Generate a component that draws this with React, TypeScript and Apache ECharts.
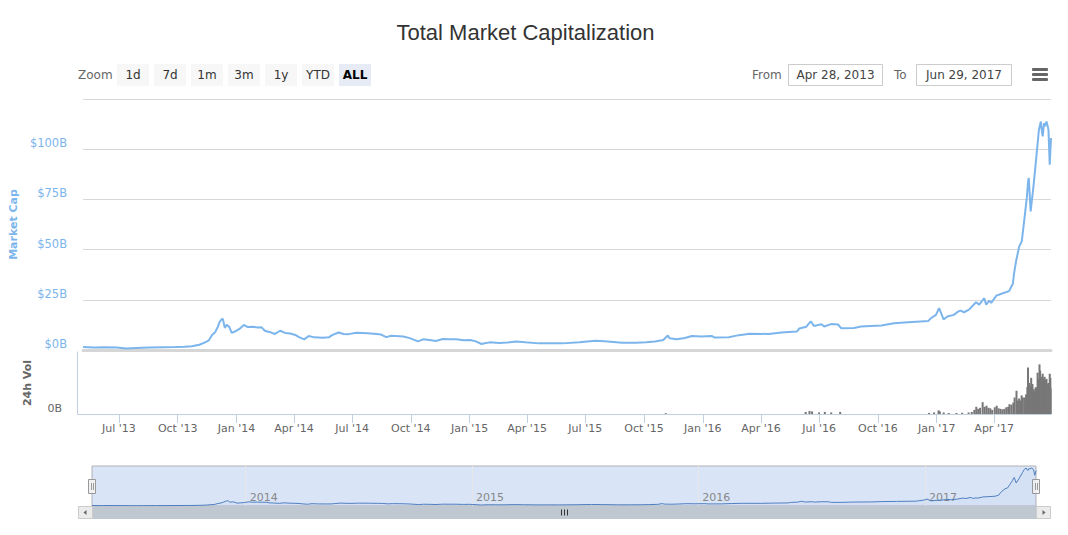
import React, { useEffect, useRef } from "react";
import * as echarts from "echarts";

const START = "2013-04-28";
const END = "2017-06-29";

const MCAP_DATES = [
  "2013-04-28","2013-05-15","2013-06-01","2013-06-20","2013-07-05","2013-07-20","2013-08-10","2013-09-01","2013-09-20","2013-10-05",
  "2013-10-16","2013-10-28","2013-11-06","2013-11-12","2013-11-17","2013-11-22","2013-11-26","2013-11-29","2013-12-02","2013-12-04",
  "2013-12-07","2013-12-10","2013-12-14","2013-12-18","2013-12-23","2013-12-30","2014-01-06","2014-01-12","2014-01-20","2014-01-28",
  "2014-02-03","2014-02-08","2014-02-15","2014-02-24","2014-03-04","2014-03-12","2014-03-20","2014-03-28","2014-04-02","2014-04-11",
  "2014-04-18","2014-04-27","2014-05-10","2014-05-20","2014-05-24","2014-06-04","2014-06-12","2014-06-20","2014-07-02","2014-07-20",
  "2014-08-03","2014-08-10","2014-08-18","2014-08-26","2014-09-14","2014-09-24","2014-10-07","2014-10-15","2014-10-25","2014-11-04",
  "2014-11-15","2014-11-25","2014-12-06","2014-12-18","2014-12-28","2015-01-06","2015-01-15","2015-01-20","2015-01-28","2015-02-12",
  "2015-02-25","2015-03-10","2015-03-25","2015-04-16","2015-05-05","2015-05-22","2015-06-18","2015-07-13","2015-07-28","2015-08-24",
  "2015-09-15","2015-10-01","2015-10-15","2015-10-28","2015-11-04","2015-11-07","2015-11-18","2015-12-01","2015-12-12","2015-12-27",
  "2016-01-12","2016-01-17","2016-02-08","2016-02-24","2016-03-12","2016-04-11","2016-05-01","2016-05-25","2016-05-29","2016-06-09",
  "2016-06-16","2016-06-21","2016-07-03","2016-07-07","2016-07-18","2016-07-29","2016-08-03","2016-08-23","2016-09-03","2016-10-05",
  "2016-10-25","2016-11-16","2016-12-18","2016-12-22","2016-12-30","2017-01-04","2017-01-11","2017-01-17","2017-01-27","2017-02-03",
  "2017-02-07","2017-02-12","2017-02-20","2017-03-03","2017-03-08","2017-03-16","2017-03-19","2017-03-24","2017-03-27","2017-04-04",
  "2017-04-12","2017-04-24","2017-04-30","2017-05-02","2017-05-05","2017-05-10","2017-05-14","2017-05-18","2017-05-22","2017-05-24",
  "2017-05-25","2017-05-28","2017-06-02","2017-06-07","2017-06-10","2017-06-13","2017-06-15","2017-06-16","2017-06-18","2017-06-19",
  "2017-06-22","2017-06-25","2017-06-27","2017-06-29"
];
const MCAP_VALUES = [
  1.5,1.3,1.4,1.2,0.8,1.0,1.2,1.4,1.5,1.6,
  1.9,2.6,3.8,4.8,7.5,9.0,11.5,14.0,15.3,15.5,
  11.0,12.5,11.5,8.5,9.2,10.5,12.5,11.4,11.6,11.2,
  11.3,9.6,9.0,8.0,9.6,8.5,8.2,7.5,6.5,5.3,
  7.0,6.3,6.1,6.3,7.3,8.7,8.0,7.9,8.6,8.3,
  8.0,7.7,6.4,7.1,6.7,5.9,4.3,5.3,5.0,4.5,
  5.5,5.4,5.3,4.8,5.0,4.3,3.0,3.4,3.8,3.5,
  3.7,4.2,3.8,3.3,3.4,3.3,3.8,4.6,4.3,3.6,
  3.6,3.8,4.2,5.0,7.2,5.8,5.3,6.0,7.0,6.7,
  7.0,6.2,6.4,7.4,8.1,8.0,8.7,9.2,10.7,11.6,
  14.3,12.0,12.8,11.7,12.9,12.7,10.8,11.0,11.7,12.2,
  13.3,13.8,14.5,15.8,17.5,20.8,15.2,16.7,17.5,19.2,
  19.6,18.8,20.1,23.8,22.6,25.8,22.6,24.6,23.5,27.1,
  28.0,29.3,33.0,38.4,44.2,51.6,54.1,64.9,76.0,84.0,
  85.7,69.0,83.2,99.8,109.7,113.8,108.0,106.4,113.0,111.3,
  113.8,109.7,92.3,105.6
];

const VOL_DATES = [
  "2015-11-04","2016-06-10","2016-06-16","2016-06-20","2016-07-01","2016-07-10","2016-07-20","2016-08-03","2016-12-20","2016-12-28",
  "2017-01-04","2017-01-06","2017-01-12","2017-01-20","2017-02-01","2017-02-10","2017-02-20","2017-02-25","2017-03-01","2017-03-04",
  "2017-03-07","2017-03-10","2017-03-14","2017-03-17","2017-03-20","2017-03-23","2017-03-26","2017-03-29","2017-04-02","2017-04-05",
  "2017-04-08","2017-04-11","2017-04-14","2017-04-17","2017-04-20","2017-04-23","2017-04-25","2017-04-28","2017-05-01","2017-05-03",
  "2017-05-06","2017-05-08","2017-05-10","2017-05-12","2017-05-14","2017-05-16","2017-05-19","2017-05-21","2017-05-23","2017-05-24",
  "2017-05-26","2017-05-27","2017-05-29","2017-05-31","2017-06-02","2017-06-03","2017-06-05","2017-06-06","2017-06-08","2017-06-09",
  "2017-06-11","2017-06-12","2017-06-14","2017-06-15","2017-06-16","2017-06-18","2017-06-19","2017-06-21","2017-06-22","2017-06-24",
  "2017-06-25","2017-06-27","2017-06-28","2017-06-29"
];
const VOL_VALUES = [
  0.08,0.2,0.3,0.25,0.15,0.2,0.15,0.2,0.1,0.15,
  0.35,0.25,0.15,0.1,0.1,0.12,0.15,0.2,0.4,0.7,
  0.5,0.6,1.15,0.7,0.8,0.6,0.55,0.4,0.65,0.8,
  0.55,0.5,0.45,0.5,0.65,0.7,0.95,0.9,1.1,1.6,
  2.25,1.3,1.5,1.3,1.8,1.6,1.6,1.9,2.6,4.5,
  3.0,2.6,3.5,2.9,2.4,2.2,2.6,2.5,4.0,3.4,
  4.8,4.2,3.2,3.6,3.9,3.4,3.6,3.3,3.4,2.9,
  3.0,3.9,3.5,2.5
];

const QUARTER_TICKS = [
  "2013-07-01","2013-10-01","2014-01-01","2014-04-01","2014-07-01","2014-10-01","2015-01-01","2015-04-01",
  "2015-07-01","2015-10-01","2016-01-01","2016-04-01","2016-07-01","2016-10-01","2017-01-01","2017-04-01"
];
const YEAR_TICKS = ["2014-01-01", "2015-01-01", "2016-01-01", "2017-01-01"];
const MCAP_TICKS = [0, 25, 50, 75, 100, 125];
const RANGE_BUTTONS = ["1d", "7d", "1m", "3m", "1y", "YTD", "ALL"];
const MONTHS = ["Jan","Feb","Mar","Apr","May","Jun","Jul","Aug","Sep","Oct","Nov","Dec"];

const ts = (s: string) => {
  const [y, m, d] = s.split("-").map(Number);
  return new Date(y, m - 1, d).getTime();
};

const FONT = "DejaVu Sans";

export default function App() {
  const ref = useRef<HTMLDivElement>(null);
  useEffect(() => {
    document.body.style.margin = "0";
    if (!ref.current) return;
    const chart = echarts.init(ref.current, undefined, { renderer: "svg" });
    const xMin = ts(START);
    const xMax = ts(END);
    const mcap = MCAP_DATES.map((d, i) => [ts(d), MCAP_VALUES[i]]);
    const vol = VOL_DATES.map((d, i) => [ts(d), VOL_VALUES[i]]);
    const qTicks = QUARTER_TICKS.map(ts);
    const yTicks = YEAR_TICKS.map(ts);

    const buttons: any[] = [];
    RANGE_BUTTONS.forEach((b, i) => {
      const x = 117 + i * 37;
      const active = b === "ALL";
      buttons.push({
        type: "rect", x, y: 64, shape: { width: 32, height: 22, r: 0 },
        style: { fill: active ? "#e6ebf5" : "#f7f7f7" }
      });
      buttons.push({
        type: "text", x: x + 16, y: 75,
        style: {
          text: b, fill: active ? "#000" : "#333", font: `${active ? "bold " : ""}12px '${FONT}'`,
          align: "center", verticalAlign: "middle"
        }
      });
    });

    const graphic: any[] = [
      {
        type: "text", x: 525.5, y: 32,
        style: {
          text: "Total Market Capitalization", fill: "#333", font: "22px 'Liberation Sans'",
          align: "center", verticalAlign: "middle"
        }
      },
      { type: "text", x: 78, y: 75, style: { text: "Zoom", fill: "#666", font: `12px '${FONT}'`, verticalAlign: "middle" } },
      ...buttons,
      { type: "text", x: 752, y: 75, style: { text: "From", fill: "#666", font: `12px '${FONT}'`, verticalAlign: "middle" } },
      { type: "rect", x: 788.5, y: 64.5, shape: { width: 94, height: 21 }, style: { fill: "#fff", stroke: "#ccc", lineWidth: 1 } },
      { type: "text", x: 835.5, y: 75, style: { text: "Apr 28, 2013", fill: "#444", font: `12px '${FONT}'`, align: "center", verticalAlign: "middle" } },
      { type: "text", x: 894, y: 75, style: { text: "To", fill: "#666", font: `12px '${FONT}'`, verticalAlign: "middle" } },
      { type: "rect", x: 916.5, y: 64.5, shape: { width: 95, height: 21 }, style: { fill: "#fff", stroke: "#ccc", lineWidth: 1 } },
      { type: "text", x: 964, y: 75, style: { text: "Jun 29, 2017", fill: "#444", font: `12px '${FONT}'`, align: "center", verticalAlign: "middle" } },
      { type: "rect", x: 1032, y: 68, shape: { width: 16, height: 3, r: 1 }, style: { fill: "#666" } },
      { type: "rect", x: 1032, y: 73, shape: { width: 16, height: 3, r: 1 }, style: { fill: "#666" } },
      { type: "rect", x: 1032, y: 78, shape: { width: 16, height: 3, r: 1 }, style: { fill: "#666" } },
      { type: "rect", x: 78.5, y: 506.5, shape: { width: 972, height: 12 }, style: { fill: "#eee", stroke: "#ccc", lineWidth: 1 } },
      { type: "rect", x: 92.5, y: 506.5, shape: { width: 944, height: 12 }, style: { fill: "#bfc7d1", stroke: "#bfc7d1", lineWidth: 1 } },
      { type: "rect", x: 78.5, y: 506.5, shape: { width: 14, height: 12 }, style: { fill: "#ebebeb", stroke: "#ccc", lineWidth: 1 } },
      { type: "polygon", shape: { points: [[86.5, 510], [86.5, 515], [83.5, 512.5]] }, style: { fill: "#666" } },
      { type: "rect", x: 1036.5, y: 506.5, shape: { width: 14, height: 12 }, style: { fill: "#ebebeb", stroke: "#ccc", lineWidth: 1 } },
      { type: "polygon", shape: { points: [[1042.5, 510], [1042.5, 515], [1045.5, 512.5]] }, style: { fill: "#666" } },
      { type: "line", shape: { x1: 561.5, y1: 509.5, x2: 561.5, y2: 515.5 }, style: { stroke: "#333", lineWidth: 1 } },
      { type: "line", shape: { x1: 564.5, y1: 509.5, x2: 564.5, y2: 515.5 }, style: { stroke: "#333", lineWidth: 1 } },
      { type: "line", shape: { x1: 567.5, y1: 509.5, x2: 567.5, y2: 515.5 }, style: { stroke: "#333", lineWidth: 1 } },
      { type: "rect", x: 88.5, y: 479.5, shape: { width: 7, height: 14 }, style: { fill: "#f2f2f2", stroke: "#999", lineWidth: 1 } },
      { type: "line", shape: { x1: 91.5, y1: 483, x2: 91.5, y2: 490 }, style: { stroke: "#999", lineWidth: 1 } },
      { type: "line", shape: { x1: 93.5, y1: 483, x2: 93.5, y2: 490 }, style: { stroke: "#999", lineWidth: 1 } },
      { type: "rect", x: 1032.5, y: 479.5, shape: { width: 7, height: 14 }, style: { fill: "#f2f2f2", stroke: "#999", lineWidth: 1 } },
      { type: "line", shape: { x1: 1035.5, y1: 483, x2: 1035.5, y2: 490 }, style: { stroke: "#999", lineWidth: 1 } },
      { type: "line", shape: { x1: 1037.5, y1: 483, x2: 1037.5, y2: 490 }, style: { stroke: "#999", lineWidth: 1 } }
    ];

    const fmtQuarter = (v: number) => {
      const d = new Date(v);
      return `${MONTHS[d.getMonth()]} '${String(d.getFullYear()).slice(2)}`;
    };

    chart.setOption({
      animation: false,
      backgroundColor: "#fff",
      grid: [
        { left: 78, right: 17, top: 99, height: 251 },
        { left: 78, right: 17, top: 352, height: 62 },
        {
          left: 92, right: 32, top: 466, height: 40, show: true,
          backgroundColor: "#d9e5f6", borderColor: "#b2b1b6", borderWidth: 1
        }
      ],
      xAxis: [
        {
          type: "value", gridIndex: 0, min: xMin, max: xMax,
          axisLine: { show: true, onZero: false, lineStyle: { color: "#d6d6d6", width: 3 } },
          axisTick: { show: false }, axisLabel: { show: false }, splitLine: { show: false }
        },
        {
          type: "value", gridIndex: 1, min: xMin, max: xMax,
          axisLine: { show: true, onZero: false, lineStyle: { color: "#c0d0e0", width: 1 } },
          axisTick: { show: true, customValues: qTicks, length: 9, lineStyle: { color: "#c0d0e0" } },
          axisLabel: {
            show: true, customValues: qTicks, formatter: fmtQuarter, color: "#666",
            fontFamily: FONT, fontSize: 11, margin: 9
          },
          splitLine: { show: false }
        },
        {
          type: "value", gridIndex: 2, min: xMin, max: xMax,
          axisLine: { show: false },
          axisTick: { show: false, customValues: yTicks },
          axisLabel: {
            show: true, customValues: yTicks, inside: true, margin: 3, align: "left",
            padding: [0, 0, 0, 4], color: "#888", fontFamily: FONT, fontSize: 11,
            formatter: (v: number) => String(new Date(v).getFullYear())
          },
          splitLine: { show: true, lineStyle: { color: "#e6e6e6", width: 1 } }
        }
      ],
      yAxis: [
        {
          type: "value", gridIndex: 0, min: 0, max: 125, interval: 25,
          axisLine: { show: false }, axisTick: { show: false },
          axisLabel: {
            color: "#7cb5ec", fontFamily: FONT, fontSize: 11.5, margin: 16, verticalAlign: "bottom",
            formatter: (v: number) => (v === MCAP_TICKS[MCAP_TICKS.length - 1] ? "" : `$${v}B`)
          },
          splitLine: { show: true, lineStyle: { color: "#d8d8d8", width: 1 } },
          name: "Market Cap", nameLocation: "middle", nameGap: 63, nameRotate: 90,
          nameTextStyle: { color: "#7cb5ec", fontFamily: FONT, fontSize: 11, fontWeight: "bold" }
        },
        {
          type: "value", gridIndex: 1, min: 0, max: 6, interval: 6, offset: 1,
          axisLine: { show: true, lineStyle: { color: "#c0d0e0", width: 1 } },
          axisTick: { show: false },
          axisLabel: {
            color: "#666", fontFamily: FONT, fontSize: 11, margin: 15, verticalAlign: "bottom",
            formatter: (v: number) => (v === 0 ? "0B" : "")
          },
          splitLine: { show: false },
          name: "24h Vol", nameLocation: "middle", nameGap: 44, nameRotate: 90,
          nameTextStyle: { color: "#666", fontFamily: FONT, fontSize: 11, fontWeight: "bold" }
        },
        {
          type: "value", gridIndex: 2, min: 0, max: 120, show: false,
          splitLine: { show: false }
        }
      ],
      series: [
        {
          type: "line", xAxisIndex: 0, yAxisIndex: 0, data: mcap, symbol: "none",
          lineStyle: { color: "#7cb5ec", width: 2 }, itemStyle: { color: "#7cb5ec" }, z: 5
        },
        {
          type: "bar", xAxisIndex: 1, yAxisIndex: 1, data: vol, barWidth: 2,
          itemStyle: { color: "#777" }
        },
        {
          type: "line", xAxisIndex: 2, yAxisIndex: 2, data: mcap, symbol: "none",
          lineStyle: { color: "#4f7fc0", width: 1 },
          areaStyle: { color: "rgba(79,127,192,0.05)" }
        }
      ],
      graphic
    });
    return () => chart.dispose();
  }, []);
  return <div ref={ref} style={{ width: 1068, height: 535 }} />;
}
